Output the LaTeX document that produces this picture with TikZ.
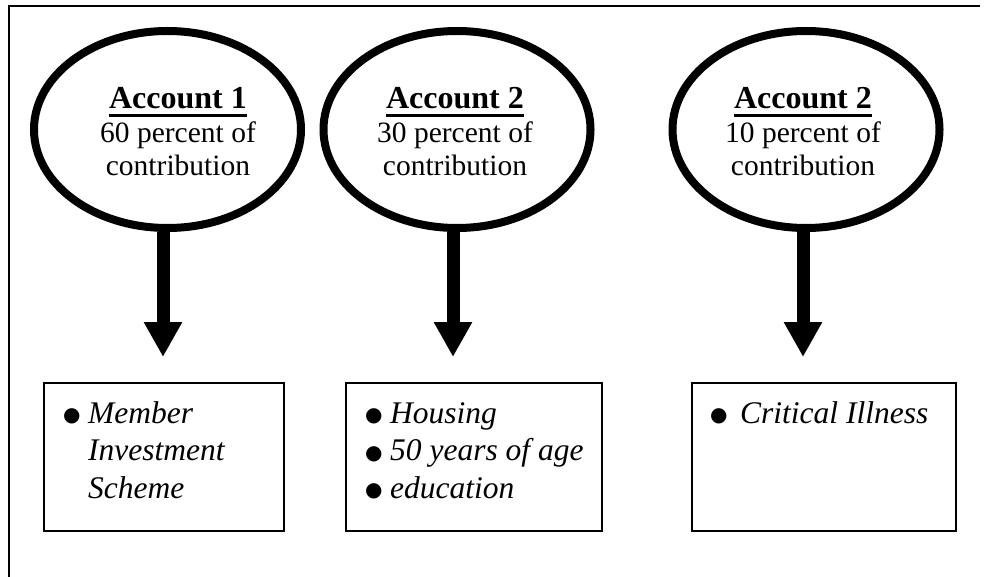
\documentclass[tikz,border=0pt]{standalone}
\usepackage{fontspec}
\setmainfont{Liberation Serif}
\newfontfamily\symfont{DejaVu Sans}
\usetikzlibrary{shapes.geometric,arrows.meta}
\newcommand{\acctul}[1]{\setbox0\hbox{\bfseries #1}\rlap{\rule[-8.5pt]{\wd0}{3.2pt}}\box0}
\newcommand{\blt}[1]{\makebox[#1][l]{\raisebox{1.5pt}{\symfont\fontsize{20}{20}\selectfont ●}}}
\tikzset{
  acct/.style={ellipse,draw,line width=8pt,minimum width=267pt,minimum height=197pt,inner sep=0pt},
  acctxt/.style={anchor=base,align=center,inner sep=0pt,font=\fontsize{29.5}{33.5}\selectfont},
  bigarrow/.style={line width=13pt,-{Triangle[width=36pt,length=35pt]}},
  usebox/.style={draw,line width=2pt,anchor=north west,minimum width=240pt,minimum height=148pt,inner sep=0pt},
  usetxt/.style={anchor=base west,inner sep=0pt,font=\fontsize{31.5}{37.5}\selectfont}
}
\begin{document}
\begin{tikzpicture}[x=1pt,y=-1pt]
\useasboundingbox (0,0) rectangle (984,577);
% frame
\coordinate (fr) at (980,6);
\coordinate (fc) at (9,6);
\coordinate (fb) at (9,577);
\draw[line width=2pt] (fr) -- (fc) -- (fb);
% ellipses
\node[acct] (e1) at (167.5,129.5) {};
\node[acct] (e2) at (457,129.5) {};
\node[acct] (e3) at (806,129.5) {};
\node[acctxt] (t1) at (178,176) {{\fontsize{32}{34.5}\selectfont\acctul{Account 1}}\\60 percent of\\contribution};
\node[acctxt] (t2) at (455,176) {{\fontsize{32}{34.5}\selectfont\acctul{Account 2}}\\30 percent of\\contribution};
\node[acctxt] (t3) at (803,176) {{\fontsize{32}{34.5}\selectfont\acctul{Account 2}}\\10 percent of\\contribution};
% arrow tips
\coordinate (a1) at (163,357);
\coordinate (a2) at (453,357);
\coordinate (a3) at (803,357);
\draw[bigarrow] (e1.south -| a1) -- (a1);
\draw[bigarrow] (e2.south -| a2) -- (a2);
\draw[bigarrow] (e3.south -| a3) -- (a3);
% boxes
\node[usebox] (b1) at (43,382) {};
\node[usebox,minimum width=256pt] (b2) at (345,382) {};
\node[usebox,minimum width=264pt] (b3) at (691,382) {};
\node[usetxt] (u1) at (63,423) {\begin{tabular}[t]{@{}l@{}l@{}}\blt{25pt} & \textit{Member}\\ & \textit{Investment}\\ & \textit{Scheme}\end{tabular}};
\node[usetxt] (u2) at (365,423) {\begin{tabular}[t]{@{}l@{}l@{}}\blt{25pt} & \textit{Housing}\\ \blt{25pt} & \textit{50 years of age}\\ \blt{25pt} & \textit{education}\end{tabular}};
\node[usetxt] (u3) at (710,423) {\begin{tabular}[t]{@{}l@{}l@{}}\blt{30pt} & \textit{Critical Illness}\end{tabular}};
\end{tikzpicture}
\end{document}
